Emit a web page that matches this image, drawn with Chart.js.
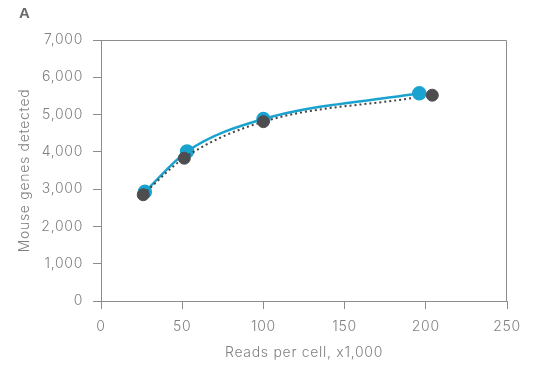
<!DOCTYPE html>
<html>
<head>
<meta charset="utf-8">
<script src="https://cdn.jsdelivr.net/npm/chart.js@4.4.1/dist/chart.umd.min.js"></script>
<style>
  html, body { margin: 0; padding: 0; background: #fff; }
  #wrap { width: 536px; height: 365px; position: relative; }
</style>
</head>
<body>
<div id="wrap"><canvas id="myChart"></canvas></div>
<script>
// reads per cell (x1,000) and mouse genes detected
const blueReads = [27, 53, 100, 196];
const blueGenes = [2930, 4010, 4880, 5570];
const grayReads = [26, 51.3, 100, 204];
const grayGenes = [2850, 3830, 4810, 5520];
// dotted fit line for the gray series
const fitReads = [26, 51.3, 100, 192];
const fitGenes = [2860, 3840, 4810, 5445];

const xTicks = [0, 50, 100, 150, 200, 250];
const yTicks = [0, 1000, 2000, 3000, 4000, 5000, 6000, 7000];

const toPts = (xs, ys) => xs.map((x, i) => ({ x: x, y: ys[i] }));

const textColor = '#808080';
const axisColor = '#8c8c8c';
const font = 'Inter, Liberation Sans, Arial, sans-serif';
const lbl = { family: font, size: 14, weight: 300 };

// wider tracking, like the original's light Helvetica
const spacingPlugin = {
  id: 'spacing',
  beforeLayout(chart) { chart.ctx.letterSpacing = '0.7px'; },
  beforeDraw(chart) { chart.ctx.letterSpacing = '0.7px'; }
};

const boxPlugin = {
  id: 'box',
  afterDraw(chart) {
    const { ctx, chartArea: a } = chart;
    ctx.save();
    ctx.strokeStyle = axisColor;
    ctx.lineWidth = 1;
    ctx.beginPath();
    ctx.moveTo(a.left, a.top + 0.5);
    ctx.lineTo(a.right - 0.5, a.top + 0.5);
    ctx.lineTo(a.right - 0.5, a.bottom);
    ctx.stroke();
    ctx.letterSpacing = '0px';
    ctx.fillStyle = '#6a6a6a';
    ctx.font = 'bold 15px Liberation Sans, Arial, sans-serif';
    ctx.textBaseline = 'middle';
    ctx.fillText('A', 19, 14);
    ctx.restore();
  }
};

const ctx = document.getElementById('myChart');
new Chart(ctx, {
  type: 'scatter',
  data: {
    datasets: [
      {
        label: 'Gray fit',
        data: toPts(fitReads, fitGenes),
        showLine: true,
        borderColor: '#444',
        borderWidth: 2,
        borderDash: [2, 3],
        cubicInterpolationMode: 'monotone',
        pointRadius: 0,
        order: 1
      },
      {
        label: 'Gray',
        data: toPts(grayReads, grayGenes),
        showLine: false,
        backgroundColor: '#4d4d50',
        borderColor: '#4d4d50',
        pointRadius: 6,
        order: 0
      },
      {
        label: 'Blue',
        data: toPts(blueReads, blueGenes),
        showLine: true,
        borderColor: '#1ba3d0',
        backgroundColor: '#1ba3d0',
        borderWidth: 2.5,
        cubicInterpolationMode: 'monotone',
        pointRadius: 6,
        order: 2
      }
    ]
  },
  options: {
    responsive: true,
    maintainAspectRatio: false,
    animation: false,
    layout: { padding: { top: 40, right: 29, left: 0, bottom: 0 } },
    plugins: {
      legend: { display: false },
      tooltip: { enabled: false }
    },
    scales: {
      x: {
        type: 'linear',
        min: 0,
        max: 250,
        afterBuildTicks: s => { s.ticks = xTicks.map(v => ({ value: v })); },
        afterFit: s => { s.height = 64; },
        grid: { drawOnChartArea: false, drawTicks: true, tickLength: 8, color: axisColor },
        border: { color: axisColor },
        ticks: { color: textColor, font: lbl, padding: 9 },
        title: { display: true, text: 'Reads per cell, x1,000', color: textColor, font: lbl, padding: { top: 0, bottom: 4 } }
      },
      y: {
        min: 0,
        max: 7000,
        afterBuildTicks: s => { s.ticks = yTicks.map(v => ({ value: v })); },
        afterFit: s => { s.width = 101; },
        grid: { drawOnChartArea: false, drawTicks: true, tickLength: 8, color: axisColor },
        border: { color: axisColor },
        ticks: { color: textColor, font: lbl, padding: 10,
          callback: v => v.toLocaleString('en-US') },
        title: { display: true, text: 'Mouse genes detected', color: textColor, font: lbl, padding: { top: 16, bottom: 0 } }
      }
    }
  },
  plugins: [spacingPlugin, boxPlugin]
});
</script>
</body>
</html>
